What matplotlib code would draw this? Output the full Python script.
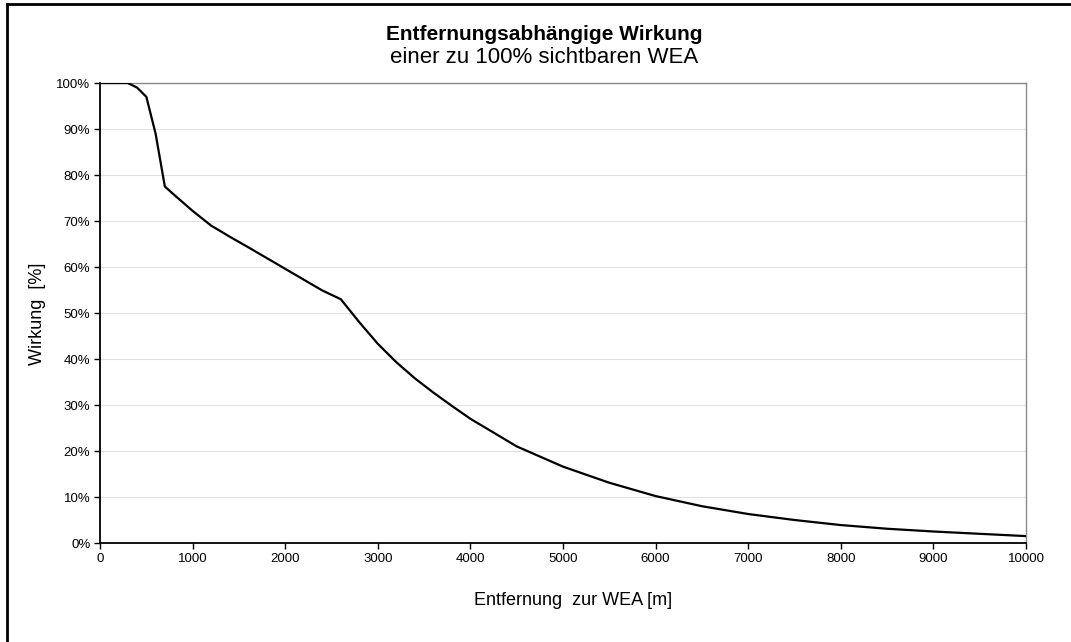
import matplotlib.pyplot as plt
from matplotlib.lines import Line2D
from matplotlib.ticker import FuncFormatter

# Entfernung [m] und Wirkung [%]
entfernung = [0, 300, 400, 500, 600, 700, 800, 1000, 1200, 1400, 1600, 2000,
              2400, 2600, 2800, 3000, 3200, 3400, 3600, 3800, 4000, 4500, 5000,
              5500, 6000, 6500, 7000, 7500, 8000, 8500, 9000, 9500, 10000]
wirkung = [100, 100, 99, 97, 89, 77.5, 75.7, 72.2, 69, 66.6, 64.3, 59.6,
           54.9, 53, 48, 43.3, 39.3, 35.8, 32.7, 29.8, 27.0, 21.0, 16.6,
           13.1, 10.2, 8.0, 6.3, 5.0, 3.9, 3.1, 2.5, 2.0, 1.5]

x_ticks = list(range(0, 10001, 1000))
y_ticks = list(range(0, 101, 10))

plt.rcParams["font.family"] = ["Liberation Sans", "DejaVu Sans"]

fig = plt.figure(figsize=(10.71, 6.42), dpi=100)
ax = fig.add_axes([0.0934, 0.1542, 0.8646, 0.7165])

ax.plot(entfernung, wirkung, color="black", lw=1.6, zorder=3)

ax.set_xlim(0, 10000)
ax.set_ylim(0, 100)
ax.set_xticks(x_ticks)
ax.set_yticks(y_ticks)
ax.yaxis.set_major_formatter(FuncFormatter(lambda v, p: f"{v:.0f}%"))
ax.tick_params(axis="both", labelsize=9.5, length=4, width=1, color="black", pad=3)
ax.grid(axis="y", color="#e2e2e2", lw=0.8)
ax.set_axisbelow(True)

for s in ["left", "bottom"]:
    ax.spines[s].set_color("black")
    ax.spines[s].set_linewidth(1.3)
for s in ["top", "right"]:
    ax.spines[s].set_color("#8a8a8a")
    ax.spines[s].set_linewidth(1.0)

ax.set_xlabel("Entfernung  zur WEA [m]", fontsize=13)
ax.set_ylabel("Wirkung  [%]", fontsize=13)
ax.xaxis.set_label_coords(0.511, -0.107)
ax.yaxis.set_label_coords(-0.058, 0.498)

fig.text(0.508, 0.9377, "Entfernungsabhängige Wirkung", ha="center", va="baseline",
         fontsize=15, fontweight="bold")
fig.text(0.508, 0.9019, "einer zu 100% sichtbaren WEA", ha="center", va="baseline",
         fontsize=16)

# Rahmen um die Grafik
fig.add_artist(Line2D([0.0065, 0.0065], [0.0, 0.9938], transform=fig.transFigure,
                      color="black", lw=2))
fig.add_artist(Line2D([0.0065, 1.0], [0.9938, 0.9938], transform=fig.transFigure,
                      color="black", lw=2))

plt.savefig("out.png", dpi=100)
